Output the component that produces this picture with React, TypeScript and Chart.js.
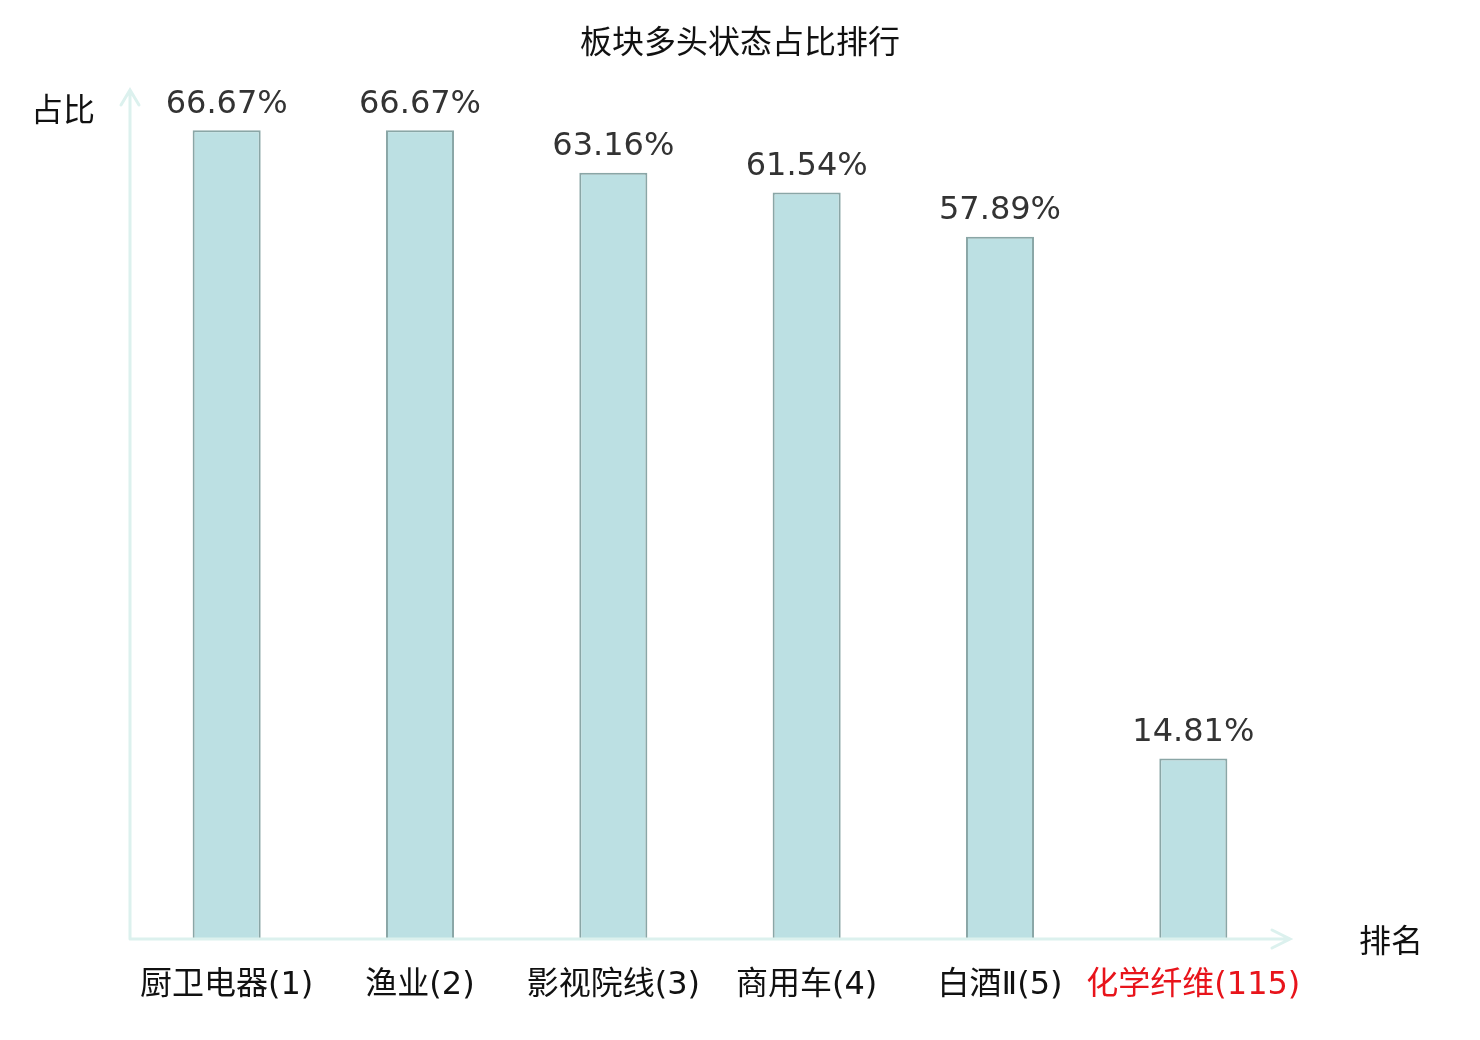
import { useEffect, useRef } from "react";
import { Chart, registerables, type Plugin } from "chart.js";

Chart.register(...registerables);

// 板块多头状态占比排行
const CATEGORIES = ["厨卫电器(1)", "渔业(2)", "影视院线(3)", "商用车(4)", "白酒Ⅱ(5)", "化学纤维(115)"];
const VALUES = [66.67, 66.67, 63.16, 61.54, 57.89, 14.81];
const HIGHLIGHT = [false, false, false, false, false, true];

const TITLE = "板块多头状态占比排行";
const Y_NAME = "占比";
const X_NAME = "排名";

const FONT = '"DejaVu Sans", "Noto Sans CJK SC", sans-serif';
const AXIS_COLOR = "#dcf1ee";

// 坐标轴、箭头、标签全部手画
const decor: Plugin<"bar"> = {
  id: "decor",
  afterDraw(chart) {
    const { ctx, chartArea, scales } = chart;
    const x = scales.x;
    const left = chartArea.left;
    const bottom = chartArea.bottom + 1;
    const top = chartArea.top;
    const right = chartArea.right;

    ctx.save();
    // 轴线
    ctx.strokeStyle = AXIS_COLOR;
    ctx.lineWidth = 3;
    ctx.lineCap = "round";
    ctx.beginPath();
    ctx.moveTo(left, bottom);
    ctx.lineTo(left, top);
    ctx.moveTo(left, bottom);
    ctx.lineTo(right, bottom);
    // 箭头
    ctx.moveTo(left - 9, top + 15);
    ctx.lineTo(left, top);
    ctx.lineTo(left + 9, top + 15);
    ctx.moveTo(right - 18, bottom - 9);
    ctx.lineTo(right, bottom);
    ctx.lineTo(right - 18, bottom + 9);
    ctx.stroke();

    // 标题与轴名
    ctx.fillStyle = "#111111";
    ctx.textBaseline = "middle";
    ctx.textAlign = "center";
    ctx.font = `32px ${FONT}`;
    ctx.fillText(TITLE, chart.width / 2, 45);
    ctx.fillText(Y_NAME, 63, 113);
    ctx.fillText(X_NAME, 1391, 944);

    // 类目标签
    CATEGORIES.forEach((c, i) => {
      ctx.fillStyle = HIGHLIGHT[i] ? "#e8141b" : "#111111";
      ctx.fillText(c, x.getPixelForValue(i), 986);
    });

    // 数值标签
    const meta = chart.getDatasetMeta(0);
    ctx.fillStyle = "#333333";
    meta.data.forEach((bar, i) => {
      ctx.fillText(VALUES[i].toFixed(2) + "%", bar.x, bar.y - 26);
    });
    ctx.restore();
  },
};

export default function App() {
  const canvasRef = useRef<HTMLCanvasElement>(null);

  useEffect(() => {
    document.body.style.margin = "0";
    const canvas = canvasRef.current;
    if (!canvas) return;
    const chart = new Chart(canvas, {
      type: "bar",
      data: {
        labels: CATEGORIES,
        datasets: [
          {
            data: VALUES,
            backgroundColor: "#bce0e3",
            borderColor: "#8aa6a6",
            borderWidth: 2,
            barPercentage: 0.352,
            categoryPercentage: 1,
          },
        ],
      },
      options: {
        responsive: false,
        animation: false,
        devicePixelRatio: 1,
        layout: { padding: { left: 130, right: 190, top: 90, bottom: 102 } },
        plugins: {
          legend: { display: false },
          tooltip: { enabled: false },
          title: { display: false },
        },
        scales: {
          x: { display: false },
          y: { display: false, min: 0, max: 70 },
        },
      },
      plugins: [decor],
    });
    return () => chart.destroy();
  }, []);

  return <canvas ref={canvasRef} width={1480} height={1040} style={{ display: "block" }} />;
}
